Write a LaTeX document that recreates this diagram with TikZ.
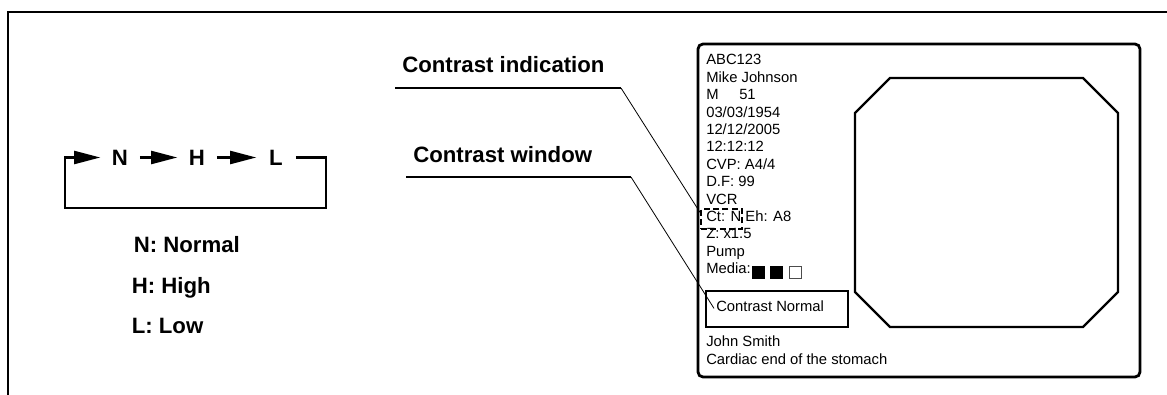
\documentclass[tikz,border=0pt]{standalone}
\usepackage{fontspec}
\setmainfont{Liberation Sans}
\usetikzlibrary{arrows.meta,calc}
\tikzset{
  frameline/.style={line width=1.6pt},
  loopline/.style={line width=1.6pt, line join=miter},
  flow/.style={loopline, -{Triangle[length=19.5pt,width=9.75pt]}},
  statenode/.style={font=\fontsize{16.65pt}{20pt}\selectfont\bfseries, inner sep=0pt, minimum width=29.25pt},
  boldlabel/.style={font=\fontsize{16.65pt}{20pt}\selectfont\bfseries, inner sep=0pt, anchor=base west},
  info/.style={font=\fontsize{11.1pt}{13pt}\selectfont, inner sep=0pt, anchor=base west},
  leaderh/.style={line width=1.6pt},
  leaderd/.style={line width=0.6pt},
  monitor/.style={draw, line width=2.1pt, rounded corners=3.75pt, minimum width=331.5pt, minimum height=249.75pt, inner sep=0pt},
  octline/.style={line width=1.7pt, line join=miter},
  cnboxstyle/.style={draw, line width=1.5pt, minimum width=106.5pt, minimum height=27pt, inner sep=0pt},
  ctboxstyle/.style={draw, line width=1.5pt, dash pattern=on 4.5pt off 2.5pt, minimum width=30.75pt, minimum height=15pt, inner sep=0pt},
  fillsq/.style={fill=black},
  opensq/.style={draw=black!70, line width=0.7pt}
}
\begin{document}
\begin{tikzpicture}[x=0.75pt,y=-0.75pt]
\useasboundingbox (0,0) rectangle (1167,395);

% outer frame (top and left edges)
\coordinate (f0) at (8,395);
\coordinate (f1) at (8,12);
\coordinate (f2) at (1170,12);
\draw[frameline] (f0) -- (f1) -- (f2);

% N -> H -> L loop
\node[statenode] (N) at (120,157.5) {N};
\node[statenode] (H) at (197,157.5) {H};
\node[statenode] (L) at (276,157.5) {L};
\coordinate (ls) at (65,157.5);
\coordinate (le) at (326,157.5);
\draw[flow] (N.east) -- (H.west);
\draw[flow] (H.east) -- (L.west);
\draw[flow] (L.east) -- (le) -- ++(0,50.5) -| (ls) -- (N.west);

% legend
\node[boldlabel] (lgN) at (133.5,252.7) {N: Normal};
\node[boldlabel] (lgH) at (131.5,293) {H: High};
\node[boldlabel] (lgL) at (131.5,333) {L: Low};

% monitor
\node[monitor] (mon) at (919,210.5) {};
\draw[octline] (890,78) -- (1083,78) -- (1118,113) -- (1118,292) -- (1083,327) -- (890,327) -- (855,292) -- (855,113) -- cycle;

% info column
\node[info] (t0) at (706,65) {ABC123};
\node[info] (t1) at (706,82.4) {Mike Johnson};
\node[info] (t2) at (706,99.8) {M\hspace{15.5pt}51};
\node[info] (t3) at (706,117.2) {03/03/1954};
\node[info] (t4) at (706,134.6) {12/12/2005};
\node[info] (t5) at (706,152) {12:12:12};
\node[info] (t6) at (706,169.4) {CVP: A4/4};
\node[info] (t7) at (706,186.8) {D.F: 99};
\node[info] (t8) at (706,204.2) {VCR};
\node[info] (t9) at (706,221.6) {Ct: N Eh: A8};
\node[info] (t10) at (706,239) {Z: x1.5};
\node[info] (t11) at (706,256.4) {Pump};
\node[info] (t12) at (706,273.8) {Media:};
\node[info] (t13) at (706,346) {John Smith};
\node[info] (t14) at (706,364) {Cardiac end of the stomach};

% media squares
\fill[fillsq] (752,266) rectangle (765,279);
\fill[fillsq] (770,266) rectangle (783,279);
\draw[opensq] (789.5,266.5) rectangle (801.5,278.5);

% contrast indication box and contrast window box
\node[ctboxstyle] (ct) at (721.5,219) {};
\node[cnboxstyle] (cnbox) at (777,309) {};
\node[info] (cntext) at (716,311) {Contrast Normal};

% callout labels
\node[boldlabel] (lab1) at (402,72.7) {Contrast indication};
\node[boldlabel] (lab2) at (413,163) {Contrast window};
\coordinate (a1) at (395,88);
\coordinate (b1) at (621,88);
\coordinate (a2) at (406,177);
\coordinate (b2) at (631,177);
\draw[leaderh] (a1) -- (b1);
\draw[leaderd] (b1) -- ($(ct.north west)!0.2!(ct.south west)$);
\draw[leaderh] (a2) -- (b2);
\draw[leaderd] (b2) -- ($(cntext.south west)+(-2,-3)$);
\end{tikzpicture}
\end{document}
